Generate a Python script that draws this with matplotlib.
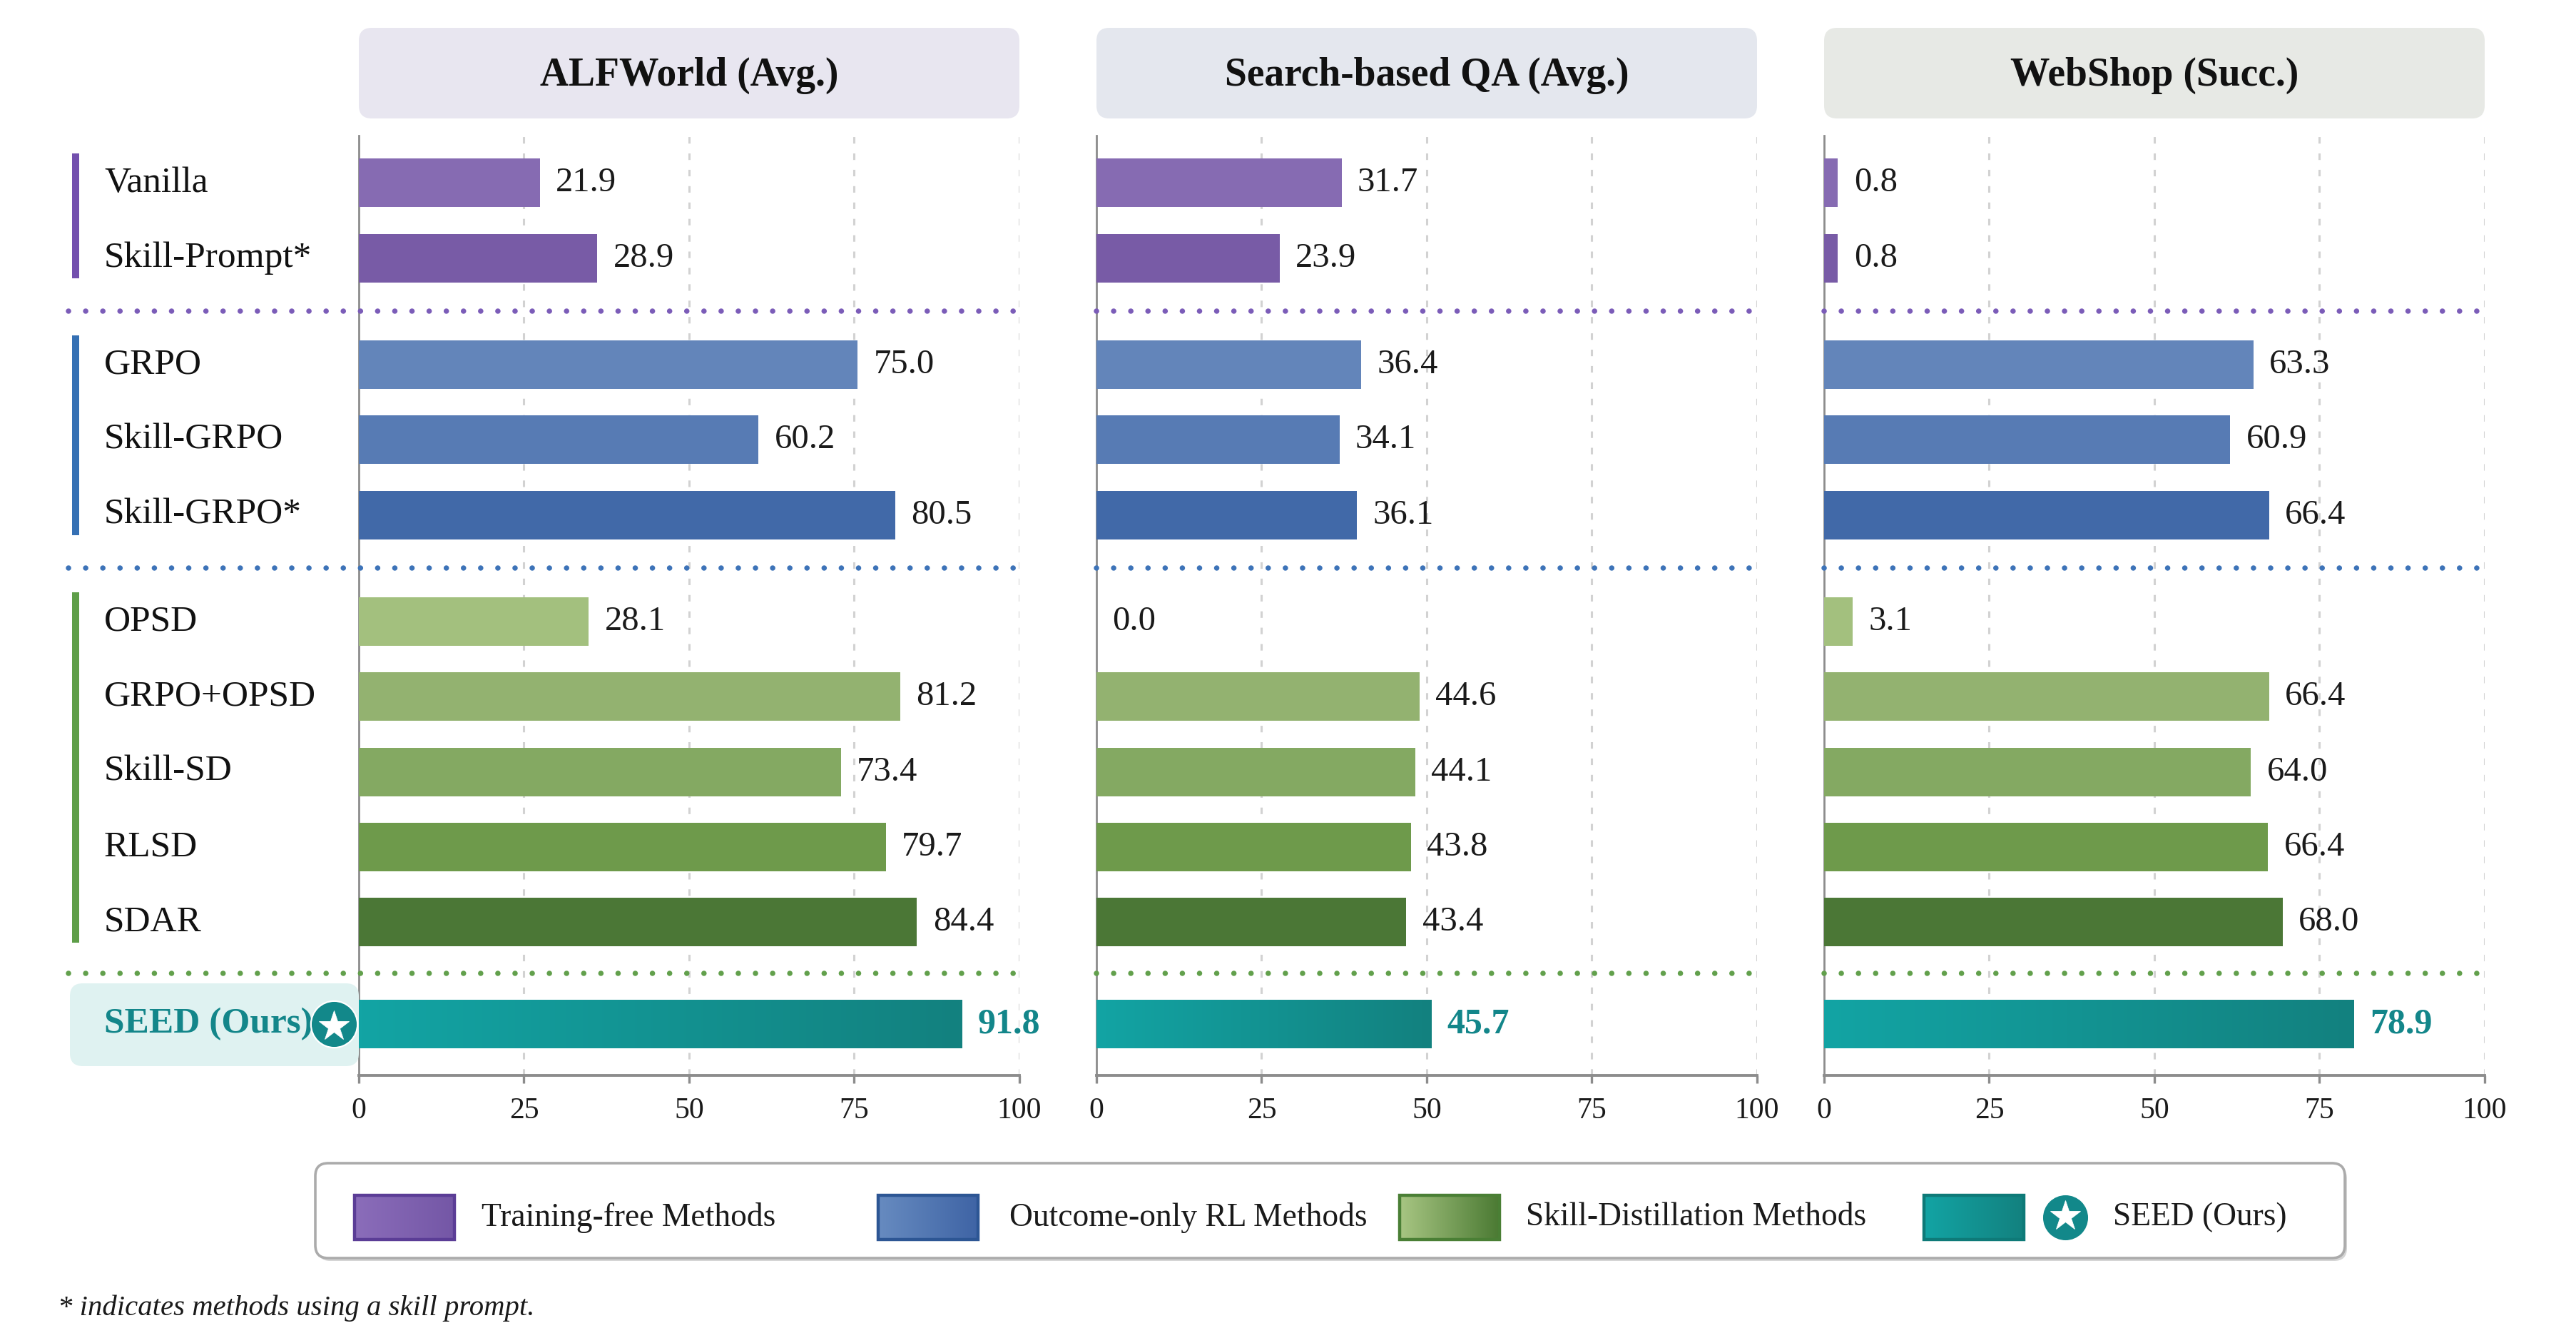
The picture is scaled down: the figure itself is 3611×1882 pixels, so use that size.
import numpy as np
import matplotlib
matplotlib.use("Agg")
import matplotlib.pyplot as plt
import matplotlib.transforms as mtransforms
from matplotlib.patches import FancyBboxPatch, Rectangle
from matplotlib.lines import Line2D
from matplotlib.colors import LinearSegmentedColormap

plt.rcParams['font.family'] = ['Liberation Serif', 'DejaVu Serif']

# ---------------- data ----------------
methods = ["Vanilla", "Skill-Prompt*", "GRPO", "Skill-GRPO", "Skill-GRPO*",
           "OPSD", "GRPO+OPSD", "Skill-SD", "RLSD", "SDAR", "SEED (Ours)"]
method_group = [0, 0, 1, 1, 1, 2, 2, 2, 2, 2, 3]
panel_titles = ["ALFWorld (Avg.)", "Search-based QA (Avg.)", "WebShop (Succ.)"]

# printed value labels
alfworld_labels = [21.9, 28.9, 75.0, 60.2, 80.5, 28.1, 81.2, 73.4, 79.7, 84.4, 91.8]
search_qa_labels = [31.7, 23.9, 36.4, 34.1, 36.1, 0.0, 44.6, 44.1, 43.8, 43.4, 45.7]
webshop_labels = [0.8, 0.8, 63.3, 60.9, 66.4, 3.1, 66.4, 64.0, 66.4, 68.0, 78.9]

# bar lengths
alfworld_bars = [27.4, 36.1, 75.5, 60.5, 81.2, 34.8, 82.0, 73.0, 79.8, 84.5, 91.3]
search_qa_bars = [37.1, 27.7, 40.1, 36.8, 39.4, 0.0, 48.9, 48.3, 47.6, 46.9, 50.7]
webshop_bars = [2.1, 2.1, 65.0, 61.5, 67.4, 4.3, 67.4, 64.6, 67.2, 69.4, 80.2]

x_ticks = [0, 25, 50, 75, 100]
legend_labels = ["Training-free Methods", "Outcome-only RL Methods",
                 "Skill-Distillation Methods", "SEED (Ours)"]
footnote = "* indicates methods using a skill prompt."

# ---------------- styles ----------------
bar_colors = ["#866BB2", "#785BA6", "#6385BA", "#577BB4", "#4169A8",
              "#A3C07E", "#93B270", "#84A962", "#6E9A4B", "#4B7736", None]
group_colors = ["#7350AE", "#3570B4", "#5E9E48"]
sep_colors = ["#7B5CB8", "#3D73B8", "#62A04C"]
header_colors = ["#E8E6F0", "#E4E7EE", "#E7E9E5"]
teal = "#13868A"
seed_cmap = LinearSegmentedColormap.from_list("seed", ["#12A4A4", "#13817F"])
legend_cmaps = [LinearSegmentedColormap.from_list("p", ["#8B6DBA", "#7457A6"]),
                LinearSegmentedColormap.from_list("b", ["#678BC0", "#3F64A5"]),
                LinearSegmentedColormap.from_list("g", ["#A8C683", "#4B7A33"]),
                LinearSegmentedColormap.from_list("t", ["#12A4A4", "#13817F"])]
legend_edges = ["#5B3D96", "#2D5694", "#4A7F35", "#0E7A78"]

W, H = 3612, 1882
DPI = 200
fig = plt.figure(figsize=(W / DPI, H / DPI), dpi=DPI)
fig.patch.set_facecolor("white")

# overlay axes in pixel coordinates (y downwards)
ov = fig.add_axes([0, 0, 1, 1], zorder=5)
ov.axis("off")
ov.patch.set_alpha(0)

# row positions (layout)
group_gaps = [0.42, 0.42, 0.36]
ypos = []
cur = 0.0
prev = method_group[0]
for g in method_group:
    if g != prev:
        cur += group_gaps[prev]
        prev = g
    ypos.append(cur)
    cur += 1
ypos = np.array(ypos)
ylim_top, ylim_bot = -0.63, ypos[-1] + 0.68
bar_h = 0.645

panel_left = [503, 1537, 2557]
panel_w = 926
ax_top, ax_bot = 190, 1507

all_bars = [alfworld_bars, search_qa_bars, webshop_bars]
all_labels = [alfworld_labels, search_qa_labels, webshop_labels]

axes = []
for p in range(3):
    ax = fig.add_axes([panel_left[p] / W, 1 - ax_bot / H, panel_w / W, (ax_bot - ax_top) / H])
    axes.append(ax)
    bars = all_bars[p]
    labs = all_labels[p]
    for i in range(len(methods)):
        if bar_colors[i] is not None:
            ax.barh(ypos[i], bars[i], height=bar_h, color=bar_colors[i], zorder=3)
        else:
            grad = np.linspace(0, 1, 256).reshape(1, -1)
            ax.imshow(grad, extent=[0, bars[i], ypos[i] + bar_h / 2, ypos[i] - bar_h / 2],
                      aspect="auto", cmap=seed_cmap, zorder=3, interpolation="bicubic")
        if i == len(methods) - 1:
            ax.annotate(f"{labs[i]:.1f}", xy=(bars[i], ypos[i]), xytext=(8, 0),
                        textcoords="offset points", va="center", ha="left",
                        fontsize=18, fontweight="bold", color=teal, zorder=4)
        else:
            ax.annotate(f"{labs[i]:.1f}", xy=(bars[i], ypos[i]), xytext=(8, 0),
                        textcoords="offset points", va="center", ha="left",
                        fontsize=17.5, color="#1A1A1A", zorder=4)
    ax.set_xlim(0, 100)
    ax.set_ylim(ylim_bot, ylim_top)
    ax.set_xticks(x_ticks)
    ax.set_xticklabels([str(t) for t in x_ticks])
    ax.set_yticks([])
    for t in x_ticks[1:]:
        ax.axvline(t, color="#D2D2D2", lw=1.1, ls=(0, (3, 4.5)), zorder=1)
    for s in ["top", "right"]:
        ax.spines[s].set_visible(False)
    ax.spines["left"].set_color("#8C8C8C")
    ax.spines["left"].set_linewidth(1.0)
    ax.spines["bottom"].set_color("#8C8C8C")
    ax.spines["bottom"].set_linewidth(1.4)
    ax.tick_params(axis="x", length=4, width=1.2, color="#8C8C8C", labelsize=15,
                   pad=7, labelcolor="#1A1A1A")
    ax.set_facecolor("none")

    # header box
    hb = FancyBboxPatch((panel_left[p] + 14, 39 + 14), panel_w - 28, 127 - 28,
                        boxstyle="round,pad=14,rounding_size=18",
                        facecolor=header_colors[p], edgecolor="none", zorder=1)
    ov.add_patch(hb)
    ov.text(panel_left[p] + panel_w / 2, 106, panel_titles[p], ha="center", va="center",
            fontsize=20, fontweight="bold", color="#111111")

    # separators between groups
    trans = mtransforms.blended_transform_factory(ov.transData, ax.transData)
    x_start = 96 if p == 0 else panel_left[p]
    for k in range(3):
        last = max(i for i, g in enumerate(method_group) if g == k)
        ysep = (ypos[last] + ypos[last + 1]) / 2
        ln = Line2D([x_start, panel_left[p] + panel_w - 8], [ysep, ysep], transform=trans,
                    color=sep_colors[k], lw=2.7, ls=(0, (0.01, 3.2)),
                    dash_capstyle="round", clip_on=False, zorder=6)
        ax.add_line(ln)

ax1 = axes[0]
trans1 = mtransforms.blended_transform_factory(ov.transData, ax1.transData)

# SEED label background box
sb = FancyBboxPatch((98 + 16, 1378 + 16), 503 - 98 - 32, 1494 - 1378 - 32,
                    boxstyle="round,pad=16,rounding_size=18",
                    facecolor="#DFF2F1", edgecolor="none", zorder=0)
ov.add_patch(sb)

# method names + group bars (drawn on overlay, positioned by panel rows)
for i, m in enumerate(methods):
    if method_group[i] == 3:
        ov.text(146, ypos[i], m, transform=trans1, ha="left", va="center",
                fontsize=18.5, fontweight="bold", color=teal, zorder=7)
    else:
        ov.text(146, ypos[i], m, transform=trans1, ha="left", va="center",
                fontsize=18.5, color="#111111", zorder=7)
for k in range(3):
    idx = [i for i, g in enumerate(method_group) if g == k]
    ln = Line2D([106, 106], [ypos[idx[0]] - 0.39, ypos[idx[-1]] + 0.27], transform=trans1,
                color=group_colors[k], lw=3.6, solid_capstyle="butt")
    ov.add_line(ln)

# star badge on SEED row
ov.add_line(Line2D([468], [ypos[-1]], transform=trans1, marker="o", markersize=23.5,
                   markerfacecolor="#12888A", markeredgecolor="white", markeredgewidth=0.8,
                   zorder=8))
ov.add_line(Line2D([468], [ypos[-1] + 0.02], transform=trans1, marker="*", markersize=16,
                   markerfacecolor="white", markeredgecolor="white", markeredgewidth=0.3,
                   zorder=9))

# ---------------- legend ----------------
shadow = FancyBboxPatch((442 + 3, 1630 + 4), 3287 - 442, 1763 - 1630,
                        boxstyle="round,pad=0,rounding_size=18",
                        facecolor="#D5D5D5", edgecolor="none", zorder=1)
ov.add_patch(shadow)
lbox = FancyBboxPatch((442, 1630), 3287 - 442, 1763 - 1630,
                      boxstyle="round,pad=0,rounding_size=18",
                      facecolor="white", edgecolor="#ABABAB", lw=1.3, zorder=2)
ov.add_patch(lbox)
patch_x = [497, 1231, 1962, 2697]
text_x = [675, 1415, 2139, 2962]
py0, py1 = 1675, 1737
grad = np.linspace(0, 1, 256).reshape(1, -1)
for k in range(4):
    ov.imshow(grad, extent=[patch_x[k], patch_x[k] + 140, py1, py0], aspect="auto",
              cmap=legend_cmaps[k], zorder=3, interpolation="bicubic")
    ov.add_patch(Rectangle((patch_x[k], py0), 140, py1 - py0, facecolor="none",
                           edgecolor=legend_edges[k], lw=1.6, zorder=4))
    ov.text(text_x[k], (py0 + py1) / 2, legend_labels[k], ha="left", va="center",
            fontsize=16.4, color="#1A1A1A", zorder=4)
ov.plot([2895], [1706], marker="o", markersize=23.5, markerfacecolor="#12888A",
        markeredgecolor="white", markeredgewidth=0.8, zorder=5)
ov.plot([2895], [1704], marker="*", markersize=16, markerfacecolor="white",
        markeredgecolor="white", markeredgewidth=0.3, zorder=6)

# footnote
ov.text(81, 1833, footnote, ha="left", va="center", fontsize=14.7, style="italic",
        color="#1A1A1A")

ov.set_xlim(0, W)
ov.set_ylim(H, 0)

fig.savefig("out.png", dpi=DPI, facecolor="white")
